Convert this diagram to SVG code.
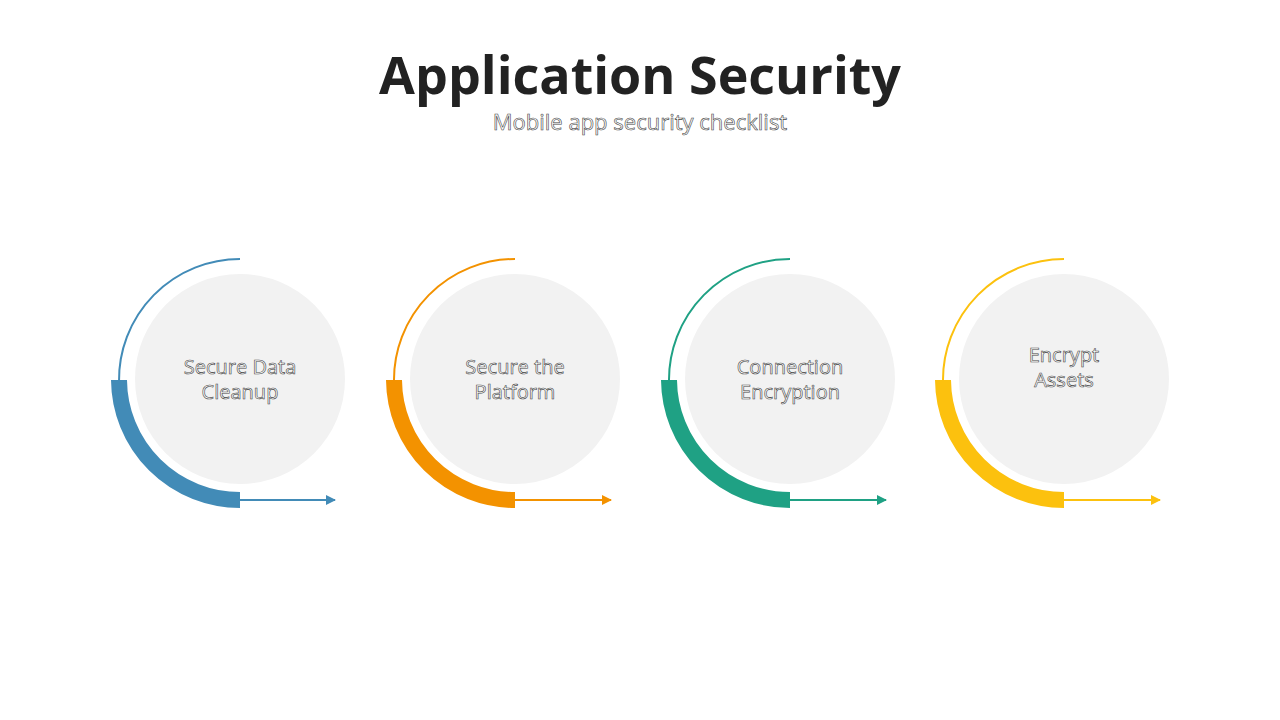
<svg xmlns="http://www.w3.org/2000/svg" width="1280" height="720" viewBox="0 0 1280 720">
<style>
.t{font-family:"Open Sans","Liberation Sans",sans-serif;font-size:20px;fill:#fff;stroke:#444;stroke-width:0.6;text-anchor:middle}
.c{fill:#f2f2f2}
.thin{fill:none;stroke-width:2}
.thick{fill:none;stroke-width:16}
</style>
<defs>
<marker id="a1" viewBox="0 0 10 10" refX="9" refY="5" markerWidth="5" markerHeight="5" orient="auto"><path d="M0,0L10,5L0,10z" fill="#428bb7"/></marker>
<marker id="a2" viewBox="0 0 10 10" refX="9" refY="5" markerWidth="5" markerHeight="5" orient="auto"><path d="M0,0L10,5L0,10z" fill="#f39200"/></marker>
<marker id="a3" viewBox="0 0 10 10" refX="9" refY="5" markerWidth="5" markerHeight="5" orient="auto"><path d="M0,0L10,5L0,10z" fill="#1fa184"/></marker>
<marker id="a4" viewBox="0 0 10 10" refX="9" refY="5" markerWidth="5" markerHeight="5" orient="auto"><path d="M0,0L10,5L0,10z" fill="#fcc10e"/></marker>
</defs>
<rect width="1280" height="720" fill="#fff"/>
<text x="640" y="94" font-family="Open Sans,Liberation Sans,sans-serif" font-size="52" font-weight="bold" fill="#222" text-anchor="middle">Application Security</text>
<text x="640" y="130" class="t" font-size="22" style="font-size:22px">Mobile app security checklist</text>
<g id="node1"><circle class="c" cx="240" cy="379" r="105"/><text class="t" x="240" y="374">Secure Data</text><text class="t" x="240" y="399">Cleanup</text></g>
<g id="node2"><circle class="c" cx="515" cy="379" r="105"/><text class="t" x="515" y="374">Secure the</text><text class="t" x="515" y="399">Platform</text></g>
<g id="node3"><circle class="c" cx="790" cy="379" r="105"/><text class="t" x="790" y="374">Connection</text><text class="t" x="790" y="399">Encryption</text></g>
<g id="node4"><circle class="c" cx="1064" cy="379" r="105"/><text class="t" x="1064" y="362">Encrypt</text><text class="t" x="1064" y="387">Assets</text></g>
<g id="connectors">
<path class="thin" stroke="#428bb7" d="M240,259A121,121 0 0 0 119,382"/>
<path class="thick" stroke="#428bb7" d="M119,380A121,121 0 0 0 240,500"/>
<path class="thin" stroke="#428bb7" d="M240,500H335" marker-end="url(#a1)"/>
<path class="thin" stroke="#f39200" d="M515,259A121,121 0 0 0 394,382"/>
<path class="thick" stroke="#f39200" d="M394,380A121,121 0 0 0 515,500"/>
<path class="thin" stroke="#f39200" d="M515,500H611" marker-end="url(#a2)"/>
<path class="thin" stroke="#1fa184" d="M790,259A121,121 0 0 0 669,382"/>
<path class="thick" stroke="#1fa184" d="M669,380A121,121 0 0 0 790,500"/>
<path class="thin" stroke="#1fa184" d="M790,500H886" marker-end="url(#a3)"/>
<path class="thin" stroke="#fcc10e" d="M1064,259A121,121 0 0 0 943,382"/>
<path class="thick" stroke="#fcc10e" d="M943,380A121,121 0 0 0 1064,500"/>
<path class="thin" stroke="#fcc10e" d="M1064,500H1160" marker-end="url(#a4)"/>
</g>
</svg>
